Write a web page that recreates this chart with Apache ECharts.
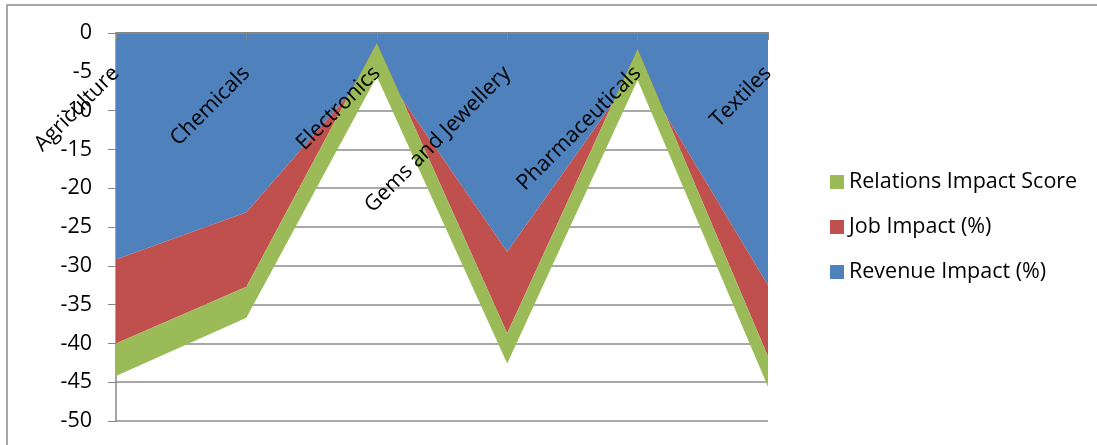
<!DOCTYPE html>
<html>
<head>
<meta charset="utf-8">
<script src="https://cdn.jsdelivr.net/npm/echarts@6/dist/echarts.min.js"></script>
<style>
html,body{margin:0;padding:0;background:#fff;}
#chart{width:1097px;height:445px;}
</style>
</head>
<body>
<div id="chart"></div>
<script>
const categories = ['Agriculture', 'Chemicals', 'Electronics', 'Gems and Jewellery', 'Pharmaceuticals', 'Textiles'];
const revenueImpact = [-29.2, -23.1, -3.8, -28.2, -4.5, -32.5];
const jobImpact = [-10.8, -9.6, 2.5, -10.5, 2.45, -9.2];
const relationsImpact = [-4.2, -4.0, -4.3, -3.9, -4.0, -3.9];
const yTicks = { min: -50, max: 0, interval: 5 };

const FONT = 'Open Sans';
const FS = 21.5;
const chart = echarts.init(document.getElementById('chart'));

function areaSeries(name, data, color) {
  return {
    name: name,
    type: 'line',
    stack: 'total',
    stackStrategy: 'all',
    data: data,
    showSymbol: false,
    symbol: 'none',
    lineStyle: { width: 0, color: color },
    itemStyle: { color: color },
    areaStyle: { color: color, opacity: 1 },
    emphasis: { disabled: true },
    animation: false
  };
}

chart.setOption({
  animation: false,
  textStyle: { fontFamily: FONT },
  graphic: [{
    type: 'rect',
    shape: { x: 7, y: 5, width: 1200, height: 600 },
    style: { fill: 'none', stroke: '#8c8c8c', lineWidth: 1.5 },
    silent: true,
    z: -10
  }],
  grid: { left: 116, right: 329, top: 33, bottom: 24, containLabel: false },
  legend: {
    orient: 'vertical',
    left: 825,
    top: 166,
    icon: 'rect',
    itemWidth: 14,
    itemHeight: 14,
    itemGap: 23,
    data: ['Relations Impact Score', 'Job Impact (%)', 'Revenue Impact (%)'],
    textStyle: { fontFamily: FONT, fontSize: FS, color: '#000', lineHeight: 22 }
  },
  xAxis: {
    type: 'category',
    data: categories,
    position: 'top',
    boundaryGap: false,
    axisLine: { show: true, onZero: false, lineStyle: { color: '#868686', width: 2 } },
    axisTick: { show: true, inside: true, length: 7, interval: 0, lineStyle: { color: '#868686', width: 1 } },
    axisLabel: {
      inside: true,
      rotate: -45,
      interval: 0,
      margin: 37,
      fontFamily: FONT,
      fontSize: FS,
      color: '#000'
    },
    splitLine: { show: false },
    z: 10
  },
  yAxis: {
    type: 'value',
    min: yTicks.min,
    max: yTicks.max,
    interval: yTicks.interval,
    axisLine: { show: true, lineStyle: { color: '#868686', width: 1.5 } },
    axisTick: { show: true, length: 8, lineStyle: { color: '#868686' } },
    axisLabel: { margin: 24, fontFamily: FONT, fontSize: FS, color: '#000' },
    splitLine: { show: true, lineStyle: { color: '#8c8c8c', width: 1.5 } }
  },
  series: [
    areaSeries('Revenue Impact (%)', revenueImpact, '#4F81BD'),
    areaSeries('Job Impact (%)', jobImpact, '#C0504D'),
    areaSeries('Relations Impact Score', relationsImpact, '#9BBB59')
  ]
});
</script>
</body>
</html>
